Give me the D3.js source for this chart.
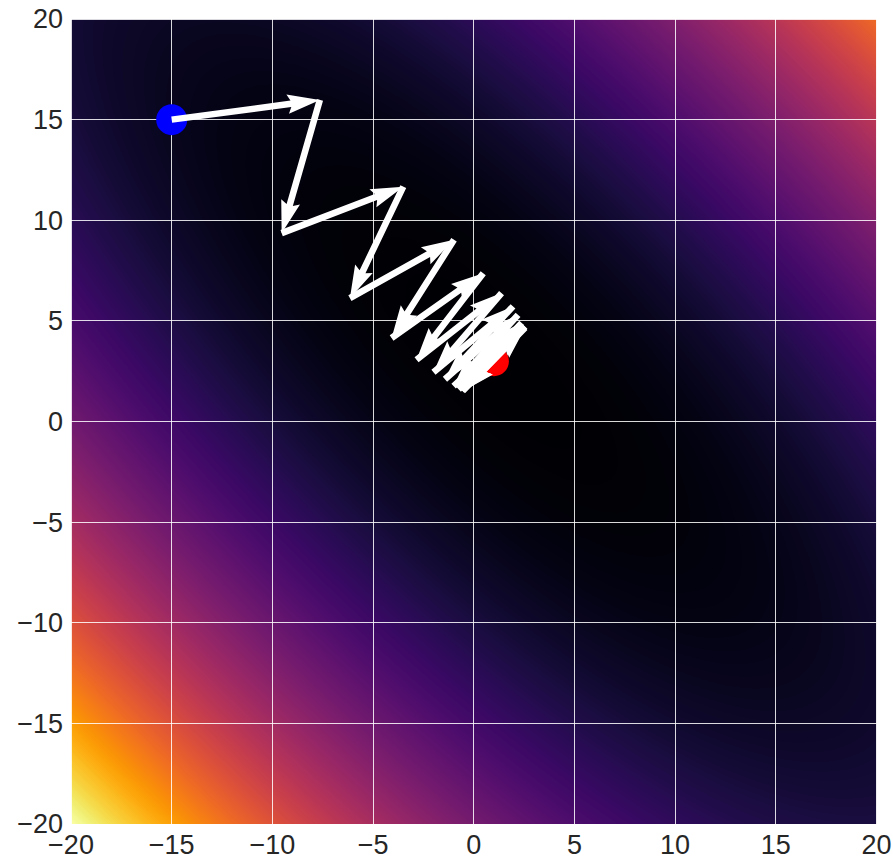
<!DOCTYPE html>
<html>
<head>
<meta charset="utf-8">
<script src="https://cdn.jsdelivr.net/npm/d3@7"></script>
<style>
  html, body { margin: 0; padding: 0; background: #ffffff; }
  svg { display: block; font-family: "Liberation Sans", Arial, sans-serif; }
</style>
</head>
<body>
<svg id="chart" width="893" height="856"></svg>
<script>
// Surface: f(x, y) = sum of (a*x + b*y + c)^2 over the terms below
const surfaceTerms = [[1, 2, -7], [2, 1, -5]];
const domainX = [-20, 20];
const domainY = [-20, 20];
const axisTicks = [-20, -15, -10, -5, 0, 5, 10, 15, 20];

// Descent iterates (start first)
const pathX = [-15, -7.64, -9.54, -3.5, -6.15, -0.98, -4.08, 0.47, -2.84, 1.38,
               -2.0, 1.95, -1.43, 2.2, -1.0, 2.38, -0.75, 2.5, -0.6, 2.55,
               -0.55, 2.55, -0.52];
const pathY = [15, 15.98, 9.36, 11.67, 6.13, 9.03, 4.15, 7.37, 3.07, 6.38,
               2.45, 5.72, 2.1, 5.3, 1.76, 4.9, 1.6, 4.75, 1.55, 4.72,
               1.52, 4.66, 1.52];
const startPoint = [-15, 15];
const minimumPoint = [1, 3];

const W = 893, H = 856;
const plot = { left: 71, right: 876.5, top: 19, bottom: 824 };

const x = d3.scaleLinear().domain(domainX).range([plot.left, plot.right]);
const y = d3.scaleLinear().domain(domainY).range([plot.bottom, plot.top]);

const surface = (px, py) =>
  d3.sum(surfaceTerms, t => Math.pow(t[0] * px + t[1] * py + t[2], 2));

const svg = d3.select("#chart");

// ---- heat map of the surface, rendered to a canvas then placed in the svg
const cw = Math.round(plot.right - plot.left);
const ch = Math.round(plot.bottom - plot.top);
const canvas = document.createElement("canvas");
canvas.width = cw; canvas.height = ch;
const ctx = canvas.getContext("2d");
const img = ctx.createImageData(cw, ch);
const values = new Float64Array(cw * ch);
for (let j = 0; j < ch; j++) {
  const vy = y.invert(plot.top + (j + 0.5) * (plot.bottom - plot.top) / ch);
  for (let i = 0; i < cw; i++) {
    const vx = x.invert(plot.left + (i + 0.5) * (plot.right - plot.left) / cw);
    values[j * cw + i] = surface(vx, vy);
  }
}
const fMax = Math.max(
  surface(domainX[0], domainY[0]), surface(domainX[0], domainY[1]),
  surface(domainX[1], domainY[0]), surface(domainX[1], domainY[1]));
const color = d3.scaleSequential(d3.interpolateInferno).domain([0, fMax]).clamp(true);
for (let k = 0; k < values.length; k++) {
  const c = d3.rgb(color(values[k]));
  img.data[4 * k] = c.r;
  img.data[4 * k + 1] = c.g;
  img.data[4 * k + 2] = c.b;
  img.data[4 * k + 3] = 255;
}
ctx.putImageData(img, 0, 0);

svg.append("image")
  .attr("x", plot.left).attr("y", plot.top)
  .attr("width", plot.right - plot.left).attr("height", plot.bottom - plot.top)
  .attr("preserveAspectRatio", "none")
  .attr("href", canvas.toDataURL());

// ---- grid
const grid = svg.append("g").attr("stroke", "#ffffff").attr("stroke-opacity", 0.85)
  .attr("stroke-width", 1).attr("shape-rendering", "crispEdges");
grid.selectAll("line.v").data(axisTicks).join("line").attr("class", "v")
  .attr("x1", d => x(d)).attr("x2", d => x(d))
  .attr("y1", plot.top).attr("y2", plot.bottom);
grid.selectAll("line.h").data(axisTicks).join("line").attr("class", "h")
  .attr("y1", d => y(d)).attr("y2", d => y(d))
  .attr("x1", plot.left).attr("x2", plot.right);

// ---- tick labels
const fmt = d => (d < 0 ? "\u2212" + Math.abs(d) : String(d));
const labels = svg.append("g").attr("fill", "#262626").attr("font-size", 27);
labels.selectAll("text.x").data(axisTicks).join("text").attr("class", "x")
  .attr("x", d => x(d)).attr("y", 853.5)
  .attr("text-anchor", "middle").text(fmt);
labels.selectAll("text.y").data(axisTicks).join("text").attr("class", "y")
  .attr("x", 63).attr("y", d => y(d))
  .attr("dy", "0.35em")
  .attr("text-anchor", "end").text(fmt);

// ---- start and minimum markers
svg.append("circle").attr("cx", x(startPoint[0])).attr("cy", y(startPoint[1]))
  .attr("r", 15.5).attr("fill", "#0000ff");
svg.append("circle").attr("cx", x(minimumPoint[0])).attr("cy", y(minimumPoint[1]))
  .attr("r", 15).attr("fill", "#ff0000");

// ---- step arrows (quiver-style polygon: shaft width w, head 3w wide, 5w long)
const w = 6.5, headW = 3, headL = 5, headAx = 4.5, minShaft = 1;
function arrowPath(x0, y0, x1, y1) {
  const dx = x1 - x0, dy = y1 - y0;
  const L = Math.hypot(dx, dy) / w;
  const minsh = minShaft * headL;
  let X, Y;
  if (L >= minsh) {
    X = [0, L - headAx, L - headL, L, L - headL, L - headAx, 0];
    Y = [0.5, 0.5, headW / 2, 0, -headW / 2, -0.5, -0.5];
  } else {
    const s = L / minsh;
    X = [0, minsh - headAx, minsh - headL, minsh, minsh - headL, minsh - headAx, 0].map(v => v * s);
    Y = [0.5, 0.5, headW / 2, 0, -headW / 2, -0.5, -0.5].map(v => v * s);
  }
  const ang = Math.atan2(dy, dx), ca = Math.cos(ang), sa = Math.sin(ang);
  const pts = X.map((xx, i) => {
    const px = xx * w, py = Y[i] * w;
    return [x0 + px * ca - py * sa, y0 + px * sa + py * ca];
  });
  return "M" + pts.map(p => p[0].toFixed(2) + "," + p[1].toFixed(2)).join("L") + "Z";
}
const steps = d3.range(pathX.length - 1);
svg.append("g").attr("fill", "#ffffff")
  .selectAll("path").data(steps).join("path")
  .attr("d", i => arrowPath(x(pathX[i]), y(pathY[i]), x(pathX[i + 1]), y(pathY[i + 1])));
</script>
</body>
</html>
